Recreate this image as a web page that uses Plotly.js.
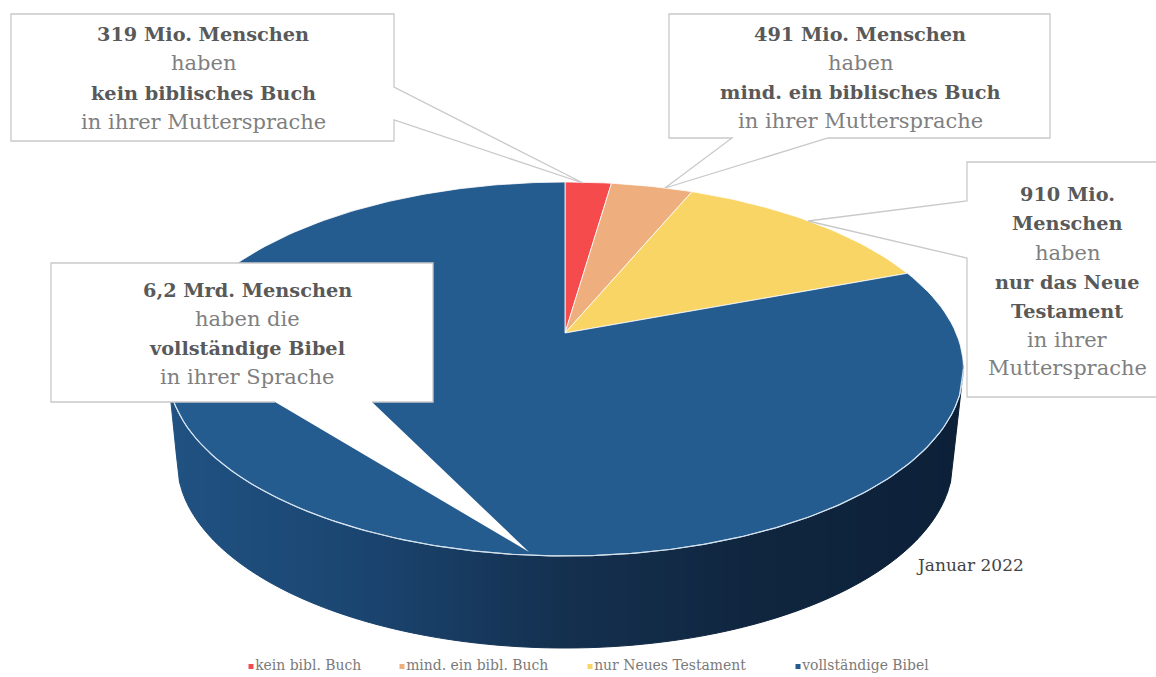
<!DOCTYPE html>
<html lang="de">
<head>
<meta charset="utf-8">
<title>Bibel in der Muttersprache</title>
<script src="https://cdn.plot.ly/plotly-3.0.1.min.js"></script>
<style>html,body{margin:0;padding:0;background:#fff}#chart{width:1156px;height:677px}</style>
</head>
<body>
<div id="chart"></div>
<script>
// People by availability of scripture in their mother tongue (millions)
const categories = ['kein bibl. Buch', 'mind. ein bibl. Buch', 'nur Neues Testament', 'vollständige Bibel'];
const peopleMio = [319, 491, 910, 6200];
const sliceColors = ['#f54b4d', '#efae7e', '#f8d565', '#255c90'];

const calloutNoBook = ['<b>319 Mio. Menschen</b>', 'haben', '<b>kein biblisches Buch</b>', 'in ihrer Muttersprache'];
const calloutSomeBooks = ['<b>491 Mio. Menschen</b>', 'haben', '<b>mind. ein biblisches Buch</b>', 'in ihrer Muttersprache'];
const calloutNewTestament = ['<b>910 Mio.</b>', '<b>Menschen</b>', 'haben', '<b>nur das Neue</b>', '<b>Testament</b>', 'in ihrer', 'Muttersprache'];
const calloutFullBible = ['<b>6,2 Mrd. Menschen</b>', 'haben die', '<b>vollständige Bibel</b>', 'in ihrer Sprache'];
const dateNote = 'Januar 2022';

// Tilted disc geometry, in page pixels (the axes below run 1:1 with the page)
const DISC = { cx: 565.5, cy: 369, rx: 398, ry: 187, apexX: 565, apexY: 333, foreshorten: 1.2 };
const BASE = { cx: 565, cy: 461, rx: 388, ry: 187 };
const SERIF = '"DejaVu Serif", "Liberation Serif", serif';

// Where the ray leaving the apex at a given pie angle meets the rim of the disc
function rimPoint(deg) {
  const a = deg * Math.PI / 180;
  const dx = DISC.foreshorten * Math.sin(a), dy = -Math.cos(a);
  const ox = (DISC.apexX - DISC.cx) / DISC.rx, oy = (DISC.apexY - DISC.cy) / DISC.ry;
  const ux = dx / DISC.rx, uy = dy / DISC.ry;
  const A = ux * ux + uy * uy, B = 2 * (ox * ux + oy * uy), C = ox * ox + oy * oy - 1;
  const t = (-B + Math.sqrt(B * B - 4 * A * C)) / (2 * A);
  return [DISC.apexX + t * dx, DISC.apexY + t * dy];
}

function lowerArc(e, x) {
  const u = (x - e.cx) / e.rx;
  return e.cy + e.ry * Math.sqrt(Math.max(0, 1 - u * u));
}

// Lower silhouette of the drum: the base arc, joined to the disc's widest points
function drumBottom(x) {
  const leftDisc = DISC.cx - DISC.rx, rightDisc = DISC.cx + DISC.rx;
  const leftBase = BASE.cx - BASE.rx, rightBase = BASE.cx + BASE.rx;
  if (x < leftBase) return DISC.cy + (x - leftDisc) / (leftBase - leftDisc) * (BASE.cy - DISC.cy);
  if (x > rightBase) return DISC.cy + (rightDisc - x) / (rightDisc - rightBase) * (BASE.cy - DISC.cy);
  return lowerArc(BASE, x);
}

// Horizontal shading of the drum wall
const wallStops = [[167, [32, 82, 130]], [350, [27, 70, 114]], [565, [20, 48, 79]], [750, [16, 38, 63]], [964, [12, 32, 56]]];
function wallColor(x) {
  for (let i = 1; i < wallStops.length; i++) {
    if (x <= wallStops[i][0]) {
      const [x0, c0] = wallStops[i - 1], [x1, c1] = wallStops[i];
      const f = (x - x0) / (x1 - x0);
      return 'rgb(' + c0.map((v, k) => Math.round(v + f * (c1[k] - v))).join(',') + ')';
    }
  }
  return 'rgb(12,32,56)';
}

const traces = [];
const plain = { type: 'scatter', hoverinfo: 'skip', showlegend: false };

// Drum wall as narrow shaded strips
const wallLeft = DISC.cx - DISC.rx, wallRight = DISC.cx + DISC.rx, stripWidth = 3;
for (let x = wallLeft; x < wallRight; x += stripWidth) {
  const x1 = Math.min(x + stripWidth, wallRight);
  const color = wallColor((x + x1) / 2);
  traces.push(Object.assign({}, plain, {
    mode: 'lines', fill: 'toself', fillcolor: color, line: { color: color, width: 1 },
    x: [x, x1, x1, x, x],
    y: [lowerArc(DISC, x) - 4, lowerArc(DISC, x1) - 4, drumBottom(x1), drumBottom(x), lowerArc(DISC, x) - 4]
  }));
}

// Slices: each spans an angle proportional to its share of the population
const total = peopleMio.reduce((s, v) => s + v, 0);
let startAngle = 0;
peopleMio.forEach((value, i) => {
  const endAngle = startAngle + value / total * 360;
  const xs = [DISC.apexX], ys = [DISC.apexY];
  for (let a = startAngle; ; a = Math.min(a + 1, endAngle)) {
    const p = rimPoint(a);
    xs.push(p[0]); ys.push(p[1]);
    if (a >= endAngle) break;
  }
  xs.push(DISC.apexX); ys.push(DISC.apexY);
  traces.push(Object.assign({}, plain, {
    name: categories[i], mode: 'lines', fill: 'toself', fillcolor: sliceColors[i],
    line: { color: 'rgba(255,255,255,0.8)', width: 1 }, x: xs, y: ys
  }));
  startAngle = endAngle;
});

// Light rim along the front of the disc
const rimX = [], rimY = [];
for (let x = wallLeft; x <= wallRight; x += 4) { rimX.push(x); rimY.push(lowerArc(DISC, x)); }
traces.push(Object.assign({}, plain, { mode: 'lines', x: rimX, y: rimY, line: { color: '#d3e3f0', width: 1.2 } }));

// Key along the bottom edge
const keyX = [251, 402, 590, 798];
categories.forEach((name, i) => {
  traces.push(Object.assign({}, plain, {
    mode: 'markers+text', x: [keyX[i]], y: [666.5],
    marker: { symbol: 'square', size: 5, color: sliceColors[i] },
    text: [name], textposition: 'middle right', cliponaxis: false,
    textfont: { family: '"DejaVu Serif Condensed", ' + SERIF, size: 15.5, color: '#7a7a7a' }
  }));
});

// Speech-bubble outlines
const BORDER = '#c9c9c9';
function toPath(pts, close) {
  return 'M' + pts.map(p => p.join(',')).join('L') + (close ? 'Z' : '');
}
function bubble(pts) {
  return { type: 'path', layer: 'above', xref: 'x', yref: 'y', path: toPath(pts, true), fillcolor: '#fff', line: { color: BORDER, width: 1.3 } };
}
const shapes = [
  bubble([[11, 14], [394, 14], [394, 87], [583, 183], [394, 120], [394, 141], [11, 141]]),
  bubble([[669, 14], [1050, 14], [1050, 138], [828, 138], [665, 188], [732, 138], [669, 138]]),
  bubble([[967, 162], [1160, 162], [1160, 397], [967, 397], [967, 258], [808, 221], [967, 201]]),
  { type: 'path', layer: 'above', xref: 'x', yref: 'y', path: toPath([[51, 263], [433, 263], [433, 402], [372, 402], [529, 552], [275, 402], [51, 402]], true), fillcolor: '#fff', line: { width: 0 } },
  { type: 'path', layer: 'above', xref: 'x', yref: 'y', path: toPath([[275, 402], [51, 402], [51, 263], [433, 263], [433, 402], [372, 402]], false), line: { color: BORDER, width: 1.3 } }
];

// Bubble captions, set line by line
const annotations = [];
function caption(lines, x, ys) {
  lines.forEach((text, i) => {
    const strong = text.startsWith('<b>');
    annotations.push({
      xref: 'x', yref: 'y', x: x, y: ys[i], text: text, showarrow: false, xanchor: 'center', yanchor: 'middle',
      font: { family: SERIF, size: strong ? 19.3 : 21, color: strong ? '#595959' : '#7f7f7f' }
    });
  });
}
caption(calloutNoBook, 203, [34, 63, 93, 122]);
caption(calloutSomeBooks, 860, [34, 63, 92, 121]);
caption(calloutNewTestament, 1067, [194, 223, 253, 282, 311, 340, 368]);
caption(calloutFullBible, 247, [290, 319, 348, 377]);
annotations.push({
  xref: 'x', yref: 'y', x: 970, y: 565, text: dateNote, showarrow: false, xanchor: 'center', yanchor: 'middle',
  font: { family: SERIF, size: 17, color: '#444' }
});

const layout = {
  width: 1156, height: 677,
  margin: { l: 0, r: 0, t: 0, b: 0 },
  paper_bgcolor: '#fff', plot_bgcolor: '#fff',
  showlegend: false, hovermode: false,
  xaxis: { range: [0, 1156], visible: false, fixedrange: true },
  yaxis: { range: [677, 0], visible: false, fixedrange: true },
  shapes: shapes, annotations: annotations
};

Plotly.newPlot('chart', traces, layout, { displayModeBar: false, responsive: false });
</script>
</body>
</html>
